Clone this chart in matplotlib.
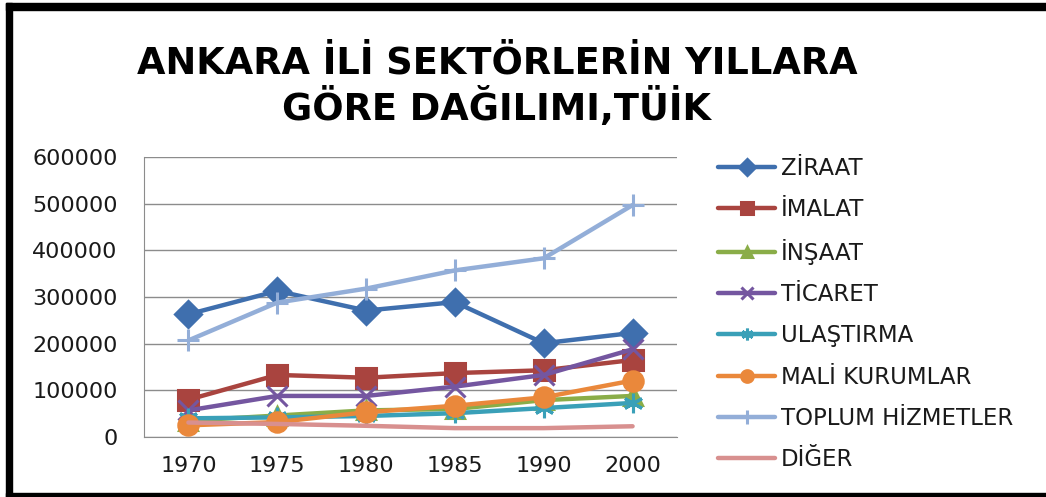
import matplotlib
matplotlib.use("Agg")
import matplotlib.pyplot as plt
from matplotlib.patches import Rectangle

# Ankara ili sektörlerin yıllara göre dağılımı (TÜİK)
years = ["1970", "1975", "1980", "1985", "1990", "2000"]
ziraat = [263000, 313000, 271000, 289000, 201000, 223000]
imalat = [80000, 133000, 127000, 137000, 143000, 165000]
insaat = [35000, 46000, 57000, 60000, 79000, 88000]
ticaret = [57000, 88000, 88000, 108000, 133000, 188000]
ulastirma = [40000, 42000, 45000, 51000, 62000, 73000]
mali = [25000, 32000, 53000, 67000, 85000, 121000]
toplum = [207000, 288000, 318000, 357000, 383000, 497000]
diger = [31000, 28000, 24000, 19000, 19000, 23000]

series = [
    ("ZİRAAT", ziraat, "#3f6fae", "D", 13),
    ("İMALAT", imalat, "#a9443f", "s", 14),
    ("İNŞAAT", insaat, "#8aad48", "^", 13),
    ("TİCARET", ticaret, "#7456a0", "x", 14),
    ("ULAŞTIRMA", ulastirma, "#3aa0b8", (6, 2, 0), 14),
    ("MALİ KURUMLAR", mali, "#ea883b", "o", 14),
    ("TOPLUM HİZMETLER", toplum, "#93aed8", "+", 16),
    ("DİĞER", diger, "#d8908f", None, 0),
]

W, H = 1046, 497
fig = plt.figure(figsize=(W / 100, H / 100), dpi=100)
ax = fig.add_axes([144 / W, 1 - 437 / H, (677 - 144) / W, (437 - 157) / H])

x = list(range(len(years)))
for name, vals, col, mk, ms in series:
    ax.plot(x, vals, color=col, lw=3.2, marker=mk, markersize=ms,
            markeredgewidth=2.2, label=name, solid_capstyle="round")

ax.set_xlim(-0.5, len(years) - 0.5)
ax.set_ylim(0, 600000)
ax.set_yticks(range(0, 600001, 100000))
ax.set_xticks(x)
ax.set_xticklabels(years)
ax.yaxis.grid(True, color="#8c8c8c", lw=1)
ax.set_axisbelow(True)
for s in ["top", "right"]:
    ax.spines[s].set_visible(False)
for s in ["left", "bottom"]:
    ax.spines[s].set_color("#8c8c8c")
ax.tick_params(length=0, labelsize=16, colors="#1a1a1a")
ax.tick_params(axis="y", pad=19)
ax.tick_params(axis="x", pad=14)

leg = ax.legend(loc="upper left", bbox_to_anchor=(718 / W, 1 - 157 / H),
                bbox_transform=fig.transFigure, frameon=False, fontsize=16.5,
                handlelength=2.5, handletextpad=0.25, labelspacing=0.79,
                borderpad=0, borderaxespad=0, markerscale=0.6)
for t in leg.get_texts():
    t.set_color("#1a1a1a")

fig.text(497 / W, 1 - 86 / H, "ANKARA İLİ SEKTÖRLERİN YILLARA\nGÖRE DAĞILIMI,TÜİK",
         ha="center", va="center", fontsize=26.5, fontweight="bold",
         linespacing=1.2)

# black frame around the chart
fig.patches.append(Rectangle((6 / W, 0), 6 / W, 1 - 3 / H, transform=fig.transFigure,
                             color="black", zorder=5))
fig.patches.append(Rectangle((6 / W, 1 - 10 / H), 1, 7 / H, transform=fig.transFigure,
                             color="black", zorder=5))
fig.patches.append(Rectangle((6 / W, 0), 1, 4 / H, transform=fig.transFigure,
                             color="black", zorder=5))

fig.savefig("out.png", dpi=100)
